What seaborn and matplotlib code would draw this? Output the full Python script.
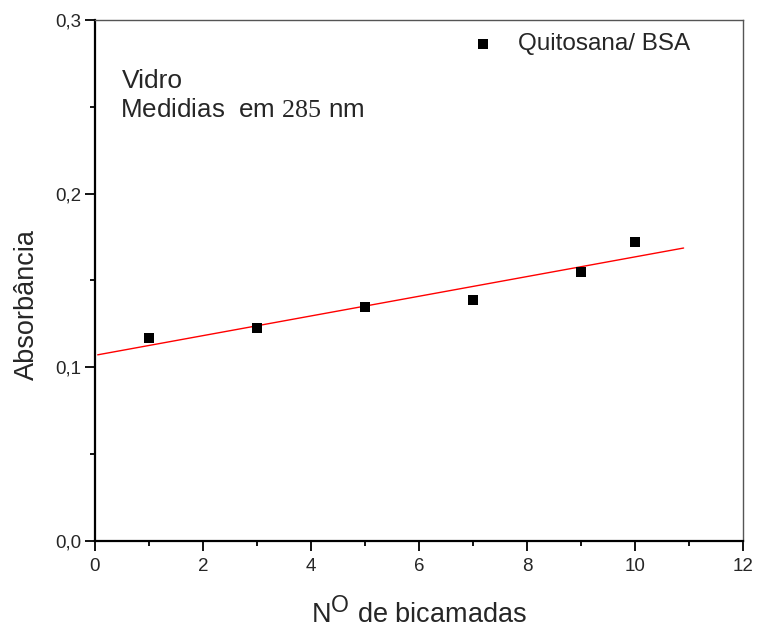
import numpy as np
import pandas as pd
import matplotlib
matplotlib.use("Agg")
import matplotlib.pyplot as plt
import matplotlib._mathtext as _mt
import seaborn as sns
from matplotlib.ticker import MultipleLocator, FuncFormatter

# data
bilayers = [1, 3, 5, 7, 9, 10]
absorbance = [0.1169, 0.1226, 0.1347, 0.1387, 0.1549, 0.1721]
series_name = "Quitosana/ BSA"
x_ticks = [0, 2, 4, 6, 8, 10, 12]
y_ticks = [0.0, 0.1, 0.2, 0.3]

sns.set_style("ticks")
plt.rcParams['font.family'] = ['Liberation Sans', 'DejaVu Sans']
plt.rcParams['mathtext.fontset'] = 'custom'
plt.rcParams['mathtext.rm'] = 'Liberation Serif'
_mt.SHRINK_FACTOR = 0.85  # larger superscript, as in the reference

df = pd.DataFrame({"x": bilayers, "y": absorbance})

fig = plt.figure(figsize=(7.57, 6.30), dpi=100)
ax = fig.add_axes([95/757, 1 - 541/630, (743-95)/757, (541-20)/630])

sns.scatterplot(data=df, x="x", y="y", marker="s", s=62, color="black",
                edgecolor="black", linewidth=0, ax=ax, label=series_name, zorder=3)

slope, intercept = np.polyfit(bilayers, absorbance, 1)
xf = np.array([0.05, 10.9])
ax.plot(xf, intercept + slope * xf, color="red", lw=1.0, zorder=2)

ax.set_xlim(0, 12)
ax.set_ylim(0, 0.3)
ax.set_xticks(x_ticks)
ax.set_yticks(y_ticks)
ax.xaxis.set_minor_locator(MultipleLocator(1))
ax.yaxis.set_minor_locator(MultipleLocator(0.05))
ax.yaxis.set_major_formatter(FuncFormatter(lambda v, p: f"{v:.1f}".replace(".", ",")))
ax.tick_params(which="major", direction="out", length=7, width=1.3, labelsize=13.5, color="black")
ax.tick_params(which="minor", direction="out", length=3.5, width=1.3, color="black")
ax.tick_params(axis="x", which="major", pad=5)
ax.tick_params(axis="y", which="major", pad=3)

for side in ["left", "bottom"]:
    ax.spines[side].set_linewidth(1.6)
    ax.spines[side].set_color("black")
for side in ["top", "right"]:
    ax.spines[side].set_visible(True)
    ax.spines[side].set_linewidth(1.0)
    ax.spines[side].set_color("#555555")

ax.set_xlabel(r"N$^{\mathregular{O}}$ de bicamadas", fontsize=19.5, va="baseline")
ax.xaxis.set_label_coords(0.5, (541 - 623) / 521)
ax.set_ylabel("Absorbância", fontsize=19.5)
ax.yaxis.set_label_coords(-0.085, (541 - 304) / 521)

ax.text(0.0417, 0.8695, "Vidro", transform=ax.transAxes, fontsize=19, va="baseline", ha="left")
ax.text(0.0386, 0.8138, r"Medidias  em $\mathrm{285}$ nm", transform=ax.transAxes,
        fontsize=18.7, va="baseline", ha="left")

leg = ax.legend(loc="upper left", bbox_to_anchor=(0.580, 0.975), frameon=False, fontsize=17.5,
                handlelength=1.0, handletextpad=0.92, borderpad=0, borderaxespad=0,
                markerscale=0.85)

fig.savefig("out.png", dpi=100)
